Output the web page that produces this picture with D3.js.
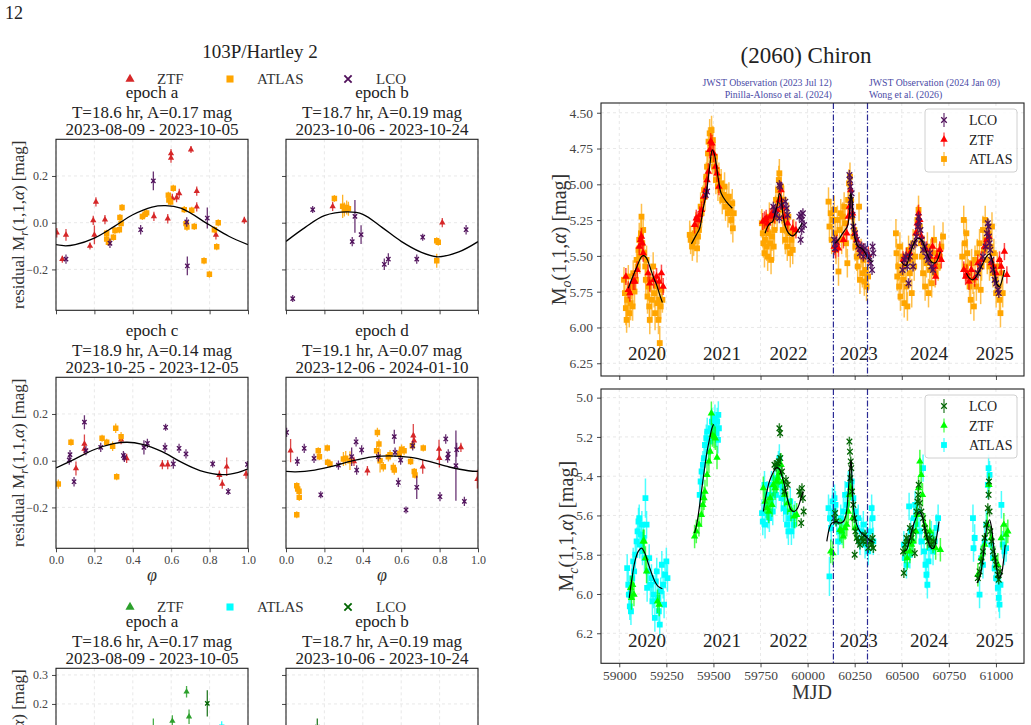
<!DOCTYPE html>
<html>
<head>
<meta charset="utf-8">
<script src="https://cdn.jsdelivr.net/npm/d3@7"></script>
<style>
  body { margin: 0; background: #fff; }
  svg { display: block; font-family: "Liberation Serif", "DejaVu Serif", serif; }
</style>
</head>
<body>
<svg id="fig" width="1031" height="725"></svg>
<script>
// ---------------- Left: residual phase curves (103P/Hartley 2) ----------------
const epochNames = ["epoch a", "epoch b", "epoch c", "epoch d"];
const epochFits = ["T=18.6 hr, A=0.17 mag", "T=18.7 hr, A=0.19 mag", "T=18.9 hr, A=0.14 mag", "T=19.1 hr, A=0.07 mag"];
const epochDates = ["2023-08-09 - 2023-10-05", "2023-10-06 - 2023-10-24", "2023-10-25 - 2023-12-05", "2023-12-06 - 2024-01-10"];
const phaseTicks = [0, 0.2, 0.4, 0.6, 0.8, 1.0];
const residTicks = [-0.2, 0.0, 0.2];
const residTicksLow = [0.1, 0.2, 0.3];

// [phase, residual, error]
const resZtf = [
  [[0.004,-0.043,.02],[0.033,-0.156,.015],[0.052,-0.052,.025],[0.177,-0.10,.015],[0.194,0.01,.02],[0.20,-0.052,.04],[0.208,0.089,.02],[0.255,0.013,.02],[0.51,0.027,.02],[0.582,0.017,.02],[0.599,0.296,.02],[0.599,0.277,.02],[0.606,0.104,.02],[0.628,0.107,.02],[0.642,0.125,.02],[0.703,0.313,.015],[0.733,0.135,.02],[0.733,0.068,.02],[0.833,-0.052,.02],[0.981,0.01,.015]],
  [[0.243,0.07,.02],[0.814,0.0,.02]],
  [[0.148,0.072,.04],[0.148,0.05,.02],[0.104,-0.033,.03],[0.368,0.01,.02],[0.339,0.09,.02],[0.554,-0.017,.02],[0.582,-0.017,.02],[0.851,-0.062,.02],[0.866,-0.1,.02],[0.889,-0.026,.04],[0.99,-0.057,.02]],
  [[0.024,0.043,.05],[0.354,-0.003,.02],[0.424,-0.043,.02],[0.663,0.107,.05],[0.667,0.086,.03],[0.712,-0.026,.03],[0.797,0.05,.04],[0.799,0.011,.04],[0.911,0.057,.02],[0.997,-0.079,.04]]
];
const resAtlas = [
  [[0.264,-0.045,.015],[0.264,-0.07,.015],[0.273,-0.084,.015],[0.299,-0.062,.015],[0.307,-0.033,.015],[0.33,-0.03,.015],[0.333,0.022,.015],[0.339,-0.004,.015],[0.344,0.065,.015],[0.45,0.027,.015],[0.464,0.036,.015],[0.472,0.042,.015],[0.585,0.118,.015],[0.588,0.097,.015],[0.597,0.089,.015],[0.611,0.147,.015],[0.668,0.056,.015],[0.677,-0.004,.015],[0.682,-0.019,.015],[0.707,0.053,.015],[0.72,-0.016,.015],[0.771,-0.163,.015],[0.799,-0.221,.015],[0.825,-0.03,.015],[0.837,-0.103,.015],[0.845,0.0,.015]],
  [[0.252,0.104,.015],[0.295,0.07,.05],[0.304,0.056,.03],[0.316,0.065,.03],[0.325,0.06,.03],[0.785,-0.077,.015],[0.793,-0.084,.015],[0.785,-0.163,.03]],
  [[0.012,-0.1,.02],[0.078,0.079,.015],[0.24,0.096,.015],[0.264,0.079,.015],[0.295,0.062,.02],[0.311,0.139,.02],[0.316,-0.069,.015],[0.339,0.103,.02]],
  [[0.056,-0.107,.015],[0.061,-0.121,.015],[0.068,-0.131,.015],[0.069,-0.157,.015],[0.056,-0.231,.015],[0.168,0.043,.015],[0.174,0.017,.015],[0.215,0.054,.015],[0.217,-0.007,.015],[0.229,-0.014,.015],[0.299,0.007,.03],[0.311,0.011,.03],[0.333,0.0,.04],[0.472,0.043,.02],[0.476,0.121,.02],[0.484,0.071,.02],[0.49,0.0,.05],[0.507,-0.026,.02],[0.533,0.017,.02],[0.542,0.026,.02],[0.559,-0.029,.02],[0.564,-0.04,.02],[0.59,0.031,.02],[0.602,0.049,.02],[0.615,0.043,.02],[0.649,-0.003,.015],[0.658,0.064,.015],[0.668,-0.046,.015],[0.672,-0.061,.015],[0.715,0.054,.015]]
];
const resLco = [
  [[0.052,-0.156,.02],[0.281,-0.088,.02],[0.441,-0.03,.02],[0.507,0.179,.04],[0.681,0.003,.02],[0.684,-0.185,.04],[0.788,0.02,.045]],
  [[0.035,-0.325,.015],[0.139,0.056,.015],[0.345,-0.081,.02],[0.359,0.027,.07],[0.391,-0.051,.04],[0.512,-0.178,.025],[0.533,-0.156,.025],[0.681,-0.156,.02],[0.712,-0.062,.015],[0.938,-0.03,.02]],
  [[0.069,0.003,.02],[0.073,0.026,.02],[0.094,-0.09,.02],[0.148,0.165,.03],[0.156,0.043,.02],[0.233,0.057,.02],[0.351,0.022,.02],[0.356,0.014,.02],[0.458,0.057,.03],[0.476,0.074,.02],[0.568,0.057,.02],[0.571,0.143,.015],[0.611,-0.014,.02],[0.641,0.053,.02],[0.677,0.029,.02],[0.816,-0.014,.015],[0.897,-0.132,.015],[0.997,-0.016,.015]],
  [[0.003,0.121,.02],[0.059,-0.003,.02],[0.095,0.053,.02],[0.146,0.01,.02],[0.181,-0.146,.015],[0.273,-0.019,.02],[0.342,0.017,.04],[0.365,0.081,.02],[0.368,-0.04,.02],[0.394,0.046,.02],[0.481,0.017,.02],[0.564,0.103,.03],[0.568,0.036,.02],[0.585,-0.093,.02],[0.597,0.003,.02],[0.625,-0.211,.015],[0.66,0.064,.02],[0.681,-0.114,.05],[0.802,-0.154,.02],[0.832,0.093,.02],[0.845,0.029,.02],[0.842,0.011,.02],[0.885,-0.021,.15],[0.889,0.047,.03],[0.929,-0.174,.02]]
];
const resFit = [
  [[0,-0.094],[0.05,-0.099],[0.1,-0.094],[0.2,-0.066],[0.3,-0.018],[0.4,0.034],[0.5,0.067],[0.57,0.073],[0.65,0.062],[0.8,-0.01],[0.9,-0.058],[1.0,-0.094]],
  [[0,-0.08],[0.1,-0.02],[0.2,0.03],[0.32,0.046],[0.4,0.036],[0.5,-0.02],[0.6,-0.08],[0.7,-0.125],[0.79,-0.146],[0.9,-0.125],[1,-0.081]],
  [[0,-0.031],[0.1,0.008],[0.2,0.048],[0.3,0.073],[0.37,0.079],[0.45,0.07],[0.55,0.04],[0.65,-0.005],[0.75,-0.042],[0.87,-0.06],[0.95,-0.05],[1,-0.035]],
  [[0,-0.046],[0.05,-0.048],[0.15,-0.04],[0.25,-0.022],[0.35,0.0],[0.45,0.016],[0.54,0.021],[0.65,0.014],[0.75,-0.004],[0.85,-0.027],[0.95,-0.043],[1,-0.046]]
];
// second (colour-band) group, only its top edge is visible
const resZtfLow = [[[0.68,0.242,.02],[0.693,0.156,.025],[0.606,0.141,.02],[0.507,0.11,.04]], []];
const resAtlasLow = [[[0.863,0.12,.02]], []];
const resLcoLow = [[[0.788,0.202,.045]], [[0.163,0.12,.03]]];

// ---------------- Right: (2060) Chiron light curves ----------------
const mjdTicks = d3.range(59000, 61001, 250);
const magTicksO = [4.50, 4.75, 5.00, 5.25, 5.50, 5.75, 6.00, 6.25];
const magTicksC = [5.0, 5.2, 5.4, 5.6, 5.8, 6.0, 6.2];
const years = ["2020", "2021", "2022", "2023", "2024", "2025"];
const yearMjd = [59147, 59545, 59899, 60272, 60644, 60994];
const jwstMjd = [60137, 60318];
const jwstText = [["JWST Observation (2023 Jul 12)", "Pinilla-Alonso et al. (2024)"], ["JWST Observation (2024 Jan 09)", "Wong et al. (2026)"]];

// [MJD, mag, err]  (err omitted -> typical error of the series)
const atlasO = [
  [59025,5.667,.09],[59030,5.760,.10],[59035,5.865,.12],[59039,5.947,.09],[59042,5.807,.12],[59048,5.644,.08],[59053,5.900,.10],[59060,5.830,.12],[59065,5.714,.09],[59071,5.853,.10],[59074,5.621,.09],[59081,5.749,.10],[59088,5.667,.09],[59092,5.528,.10],[59097,5.574,.12],[59102,5.458,.10],[59106,5.388,.12],[59109,5.505,.12],[59115,5.342,.10],[59118,5.226,.09],[59122,5.412,.10],[59127,5.319,.10],[59132,5.481,.09],[59138,5.574,.12],[59141,5.667,.10],[59145,5.528,.10],[59150,5.784,.12],[59155,5.714,.10],[59159,5.853,.12],[59162,5.947,.10],[59168,5.667,.09],[59173,5.807,.12],[59180,5.574,.10],[59185,5.760,.10],[59190,5.900,.12],[59198,5.714,.10],[59203,5.830,.12],[59208,5.947,.10],[59212,5.807,.12],[59215,6.109,.12],[59220,5.853,.09],[59224,5.737,.10],[59229,5.807,.09],
  [59374,5.353],[59379,5.388],[59388,5.435],[59395,5.400],[59400,5.342],[59406,5.295],[59413,5.447],[59418,5.365],[59423,5.319],[59427,5.249],[59432,5.156],[59437,5.202],[59444,5.109],[59450,5.040],[59455,5.086],[59462,4.947],[59466,4.877],[59471,4.784],[59474,4.702],[59480,4.644],[59485,4.714],[59490,4.621],[59494,4.830],[59497,4.691],[59503,4.877],[59508,4.807],[59513,4.970],[59519,4.900],[59524,5.016],[59529,4.947],[59536,5.040],[59541,4.993],[59547,5.109],[59554,5.074],[59559,5.016],[59564,5.156],[59571,5.109],[59577,5.202],[59582,5.086],[59589,5.179],[59594,5.249],[59600,5.133],[59603,5.307],[59608,5.202],
  [59757,5.272],[59762,5.342],[59765,5.412],[59771,5.481],[59774,5.388],[59780,5.295],[59783,5.435],[59788,5.505],[59794,5.342],[59797,5.226],[59801,5.412],[59806,5.528],[59811,5.365],[59815,5.249],[59820,5.435],[59824,5.319],[59829,5.179],[59832,5.109],[59838,5.226],[59843,5.040],[59847,4.970],[59850,4.923],[59855,5.133],[59859,5.016],[59864,5.179],[59868,5.319],[59873,5.109],[59878,5.249],[59882,5.388],[59887,5.295],[59892,5.435],[59898,5.226],[59903,5.342],[59908,5.481],[59914,5.388],[59921,5.458],[59926,5.342],
  [60111,5.121],[60116,5.295],[60123,5.202],[60128,5.388],[60134,5.249],[60141,5.179],[60146,5.342],[60151,5.458],[60158,5.249],[60164,5.609],[60169,5.319],[60176,5.202],[60181,5.388],[60187,5.226],[60194,5.156],[60199,5.272],[60204,5.412],[60211,5.551],[60215,5.109],[60220,4.993],[60225,4.947],[60231,5.109],[60236,5.226],[60243,5.365],[60248,5.319],[60254,5.435],[60261,5.505],[60266,5.574],[60273,5.156],[60278,5.667],[60284,5.481],[60291,5.621],[60296,5.528],[60301,5.679],[60308,5.598],[60313,5.714],[60321,5.644],
  [60469,5.342],[60472,5.481],[60476,5.644],[60481,5.574],[60486,5.714],[60490,5.435],[60493,5.784],[60499,5.621],[60504,5.505],[60507,5.667],[60513,5.830],[60518,5.574],[60525,5.714],[60530,5.853],[60536,5.458],[60543,5.621],[60548,5.528],[60553,5.760],[60560,5.412],[60566,5.574],[60571,5.505],[60578,5.342],[60583,5.249],[60589,5.179],[60596,5.295],[60601,5.412],[60606,5.505],[60613,5.621],[60619,5.458],[60624,5.714],[60631,5.551],[60636,5.435],[60642,5.760],[60649,5.598],[60654,5.481],[60659,5.691],[60666,5.528],[60671,5.388],[60677,5.621],[60684,5.481],[60693,5.574],[60702,5.505],[60710,5.435],[60719,5.365],
  [60821,5.505],[60829,5.249],[60834,5.412],[60839,5.574],[60843,5.342],[60848,5.481],[60853,5.621],[60860,5.714],[60866,5.807],[60871,5.551],[60878,5.667],[60883,5.853],[60889,5.528],[60896,5.714],[60901,5.481],[60906,5.621],[60913,5.412],[60919,5.737],[60924,5.574],[60931,5.319],[60936,5.458],[60943,5.249],[60949,5.388],[60954,5.528],[60961,5.342],[60966,5.574],[60972,5.435],[60979,5.295],[60984,5.621],[60989,5.481],[60996,5.667],[61001,5.760],[61007,5.574],[61014,5.714],[61019,5.807],[61024,5.900],[61029,5.621],[61036,5.760]
];
const ztfO = [
  [59035,5.644],[59048,5.737],[59056,5.760],[59074,5.679],[59083,5.679],[59095,5.598],[59106,5.435],[59113,5.388],[59118,5.365],[59123,5.412],[59127,5.481],[59153,5.621],[59162,5.691],[59183,5.667],[59198,5.644],[59212,5.679],[59224,5.621],[59233,5.714],
  [59400,5.284],[59409,5.237],[59418,5.249],[59427,5.214],[59437,5.179],[59448,5.086],[59459,5.040],[59466,4.970],[59473,4.912],[59480,4.760],[59485,4.702],[59492,4.714],[59501,4.784],[59511,4.877],[59519,4.923],[59529,5.016],
  [59762,5.260],[59771,5.249],[59780,5.237],[59788,5.272],[59801,5.226],[59811,5.202],[59824,5.214],[59838,5.179],[59850,5.109],[59859,5.040],[59868,5.156],[59877,5.226],[59894,5.272],[59921,5.307],[59938,5.319],
  [60141,5.435],[60148,5.458],[60155,5.412],[60164,5.447],[60190,5.388],[60208,5.342],[60216,5.226],[60222,5.156],[60229,5.040],[60239,5.202],[60250,5.342],[60261,5.388],[60278,5.458],[60296,5.470],[60322,5.493],
  [60507,5.528],[60525,5.505],[60543,5.481],[60575,5.342],[60582,5.272],[60589,5.202],[60596,5.249],[60604,5.365],[60631,5.458],[60649,5.505],[60663,5.435],[60675,5.574],[60680,5.644],[60687,5.505],[60702,5.458],[60710,5.528],
  [60829,5.598],[60839,5.644],[60846,5.621],[60857,5.679],[60869,5.598],[60887,5.656],[60904,5.551],[60922,5.528],[60940,5.435],[60952,5.388],[60963,5.365],[60975,5.551],[60987,5.574],[61001,5.621],[61019,5.528],[61028,5.574],[61045,5.470],[61058,5.633]
];
const lcoO = [
  [59459,5.074],[59466,5.051],
  [59818,5.156],[59827,5.179],[59832,5.214],[59850,5.005],[59854,5.016],[59850,5.237],[59859,5.144],[59882,5.121],[59889,5.167],[59894,5.214],[59956,5.226],[59965,5.214],[59970,5.249],[59975,5.202],[59963,5.388],[59981,5.284],[59968,5.319],
  [60141,5.388],[60146,5.447],[60151,5.400],[60222,4.935],[60225,4.970],[60227,5.016],[60229,5.109],[60231,5.156],[60234,5.063],[60238,5.214],[60243,5.295],[60252,5.342],[60261,5.388],[60269,5.435],[60278,5.481],[60287,5.435],[60296,5.505],[60305,5.447],[60313,5.481],[60328,5.505],[60335,5.551],[60342,5.598],[60349,5.481],[60345,5.435],
  [60504,5.598],[60513,5.528],[60522,5.505],[60529,5.574],[60536,5.691],[60543,5.505],[60552,5.435],[60560,5.574],[60569,5.412],[60578,5.365],[60585,5.295],[60589,5.226],[60592,5.260],[60599,5.319],[60606,5.388],[60613,5.458],[60622,5.435],[60631,5.505],[60640,5.528],[60649,5.481],[60657,5.574],[60666,5.598],
  [60904,5.621],[60917,5.574],[60931,5.505],[60945,5.435],[60952,5.342],[60957,5.272],[60961,5.295],[60963,5.365],[60966,5.412],[60970,5.458],[60975,5.528],[60984,5.598],[60993,5.667],[61001,5.691],[61010,5.737],[61015,5.760]
];
const fitO = [
  [[59048,5.726],[59065,5.667],[59083,5.609],[59101,5.551],[59118,5.505],[59131,5.498],[59145,5.516],[59162,5.574],[59180,5.644],[59198,5.702],[59215,5.772],[59229,5.826]],
  [[59383,5.416],[59409,5.353],[59427,5.307],[59444,5.179],[59462,5.063],[59480,4.877],[59494,4.760],[59506,4.795],[59524,4.947],[59541,5.063],[59568,5.121],[59600,5.167]],
  [[59774,5.342],[59788,5.295],[59801,5.272],[59815,5.260],[59827,5.202],[59841,5.133],[59850,5.063],[59859,5.086],[59868,5.202],[59882,5.295],[59899,5.342],[59921,5.360],[59938,5.342],[59956,5.307],[59970,5.272]],
  [[60146,5.412],[60164,5.388],[60181,5.353],[60199,5.319],[60211,5.295],[60222,5.202],[60229,5.063],[60236,5.109],[60243,5.295],[60254,5.388],[60269,5.435],[60287,5.447],[60301,5.470],[60317,5.505],[60331,5.528],[60345,5.540]],
  [[60499,5.540],[60511,5.563],[60525,5.563],[60539,5.505],[60557,5.435],[60575,5.388],[60592,5.377],[60610,5.400],[60627,5.458],[60645,5.516],[60663,5.547],[60680,5.547],[60693,5.516],[60705,5.470]],
  [[60843,5.621],[60860,5.656],[60878,5.667],[60896,5.644],[60913,5.598],[60931,5.551],[60949,5.505],[60966,5.486],[60980,5.528],[60993,5.621],[61007,5.702],[61019,5.714],[61033,5.667],[61045,5.598]]
];

const atlasC = [
  [59042,5.868],[59048,5.953],[59051,6.003],[59056,6.063],[59062,6.088],[59069,5.919],[59074,5.834],[59079,5.885],[59085,5.800],[59092,5.732],[59097,5.681],[59102,5.631],[59106,5.614],[59109,5.749],[59115,5.698],[59120,5.647],[59123,5.783],[59129,5.715],[59134,5.817],[59139,5.512,.1],[59145,5.647],[59148,5.969],[59153,5.885],[59159,5.817],[59166,5.953],[59171,5.919],[59176,6.037],[59183,6.003],[59189,6.122],[59194,5.936],[59199,5.885],[59205,6.020],[59210,6.088],[59215,6.156],[59220,5.986],[59226,5.851],[59233,5.953],[59238,6.054],[59243,5.902],[59250,5.834],[59256,5.919],
  [59427,5.495],[59432,5.427],[59437,5.376],[59444,5.342],[59450,5.308],[59455,5.241],[59462,5.207],[59467,5.173],[59473,5.275],[59480,5.224],[59485,5.156],[59492,5.122],[59497,5.164],[59503,5.139],[59508,5.105],[59515,5.181],[59520,5.122],[59526,5.088],[59529,5.156],[59524,5.215],
  [59758,5.588],[59762,5.631],[59771,5.444],[59774,5.647],[59780,5.546],[59785,5.495],[59790,5.597],[59797,5.614],[59802,5.529],[59808,5.444],[59815,5.580],[59820,5.495],[59825,5.410],[59832,5.495],[59838,5.427],[59845,5.342],[59850,5.308],[59855,5.444],[59861,5.512],[59868,5.461],[59873,5.563],[59878,5.495],[59885,5.580],[59891,5.647],[59898,5.681],[59903,5.614],[59908,5.529],[59914,5.681],[59921,5.614],[59926,5.647],[59933,5.597],
  [60111,5.563],[60116,5.910,.1],[60119,5.614],[60125,5.664],[60132,5.529],[60137,5.580],[60143,5.512],[60148,5.546],[60155,5.631],[60162,5.732],[60169,5.681],[60176,5.614],[60183,5.681],[60190,5.580],[60199,5.495],[60208,5.546],[60216,5.444],[60234,5.427],[60243,5.512],[60252,5.580],[60261,5.664],[60269,5.614],[60278,5.732],[60287,5.681],[60296,5.647],[60305,5.749],[60313,5.698],[60322,5.783],[60331,5.681],[60340,5.563],[60345,5.614],[60349,5.732],
  [60511,5.749],[60516,5.817],[60525,5.851],[60534,5.732],[60539,5.554],[60543,5.800],[60548,5.681],[60557,5.732],[60564,5.614],[60571,5.546],[60578,5.647],[60587,5.580],[60596,5.681],[60604,5.732],[60613,5.359],[60619,5.783],[60626,5.851],[60631,5.902],[60636,5.953],[60642,5.834],[60649,5.766],[60657,5.698],[60666,5.783],[60675,5.732],[60684,5.664],[60693,5.614],
  [60878,5.614],[60881,5.766],[60887,5.715],[60913,6.003],[60922,5.817],[60931,5.851],[60940,5.732],[60949,5.647],[60957,5.444],[60961,5.359],[60966,5.393],[60975,5.749],[60984,5.817],[60993,5.868],[61001,5.919],[61010,5.969],[61015,6.020],[61019,6.054],[61024,5.953],[61029,5.546],[61036,5.749],[61045,5.783],[61054,5.766]
];
const ztfC = [
  [59060,5.969],[59065,6.020],[59071,5.953],[59078,6.003],[59127,5.732],[59132,5.732],[59139,5.817],[59145,5.885],[59203,6.037],[59212,6.054],
  [59400,5.707],[59409,5.681],[59423,5.647],[59436,5.597],[59444,5.546],[59450,5.512],[59455,5.478],[59466,5.393],[59476,5.325],[59483,5.275],[59489,5.080],[59494,5.190],[59503,5.198],[59510,5.207],[59519,5.305],
  [59765,5.461],[59774,5.529],[59785,5.563],[59794,5.580],[59801,5.512],[59811,5.546],[59818,5.444],[59827,5.461],[59836,5.427],[59843,5.410],[59850,5.385],[59859,5.342],[59868,5.427],[59878,5.495],[59894,5.537],[59912,5.571],[59929,5.605],[59942,5.597],
  [60123,5.783],[60134,5.792],[60172,5.673],[60181,5.681],[60190,5.707],[60199,5.664],[60208,5.647],[60216,5.580],[60222,5.495],[60229,5.461],[60239,5.614],[60252,5.664],
  [60516,5.783],[60529,5.817],[60543,5.783],[60552,5.749],[60560,5.732],[60575,5.681],[60582,5.597],[60589,5.461],[60596,5.325],[60603,5.393],[60610,5.495],[60622,5.647],[60635,5.715],[60649,5.681],[60666,5.732],[60680,5.766],[60705,5.775],
  [60904,5.902],[60922,5.817],[60940,5.749],[60954,5.647],[60963,5.444],[60975,5.715],[60993,5.817],[61010,5.851],[61028,5.715],[61042,5.647],[61054,5.698],[61063,5.681]
];
const lcoC = [
  [59824,5.342],[59832,5.351],[59841,5.334],[59850,5.156],[59854,5.181],[59847,5.325],[59855,5.308],[59864,5.376],[59877,5.478],[59885,5.419],[59894,5.444],[59956,5.478],[59963,5.495],[59970,5.461],[59975,5.512],[59966,5.639],[59979,5.580],
  [60141,5.614],[60146,5.588],[60151,5.631],[60222,5.224],[60225,5.275],[60229,5.325],[60232,5.359],[60227,5.410],[60236,5.478],[60243,5.546],[60248,5.614],[60254,5.681],[60250,5.800],[60261,5.715],[60269,5.732],[60278,5.749],[60287,5.715],[60296,5.732],[60305,5.698],[60313,5.732],[60322,5.766],[60331,5.732],[60340,5.749],[60349,5.766],[60345,5.715],
  [60507,5.783],[60511,5.893],[60518,5.749],[60525,5.715],[60534,5.732],[60543,5.664],[60552,5.715],[60560,5.681],[60569,5.792],[60578,5.580],[60583,5.529],[60587,5.495],[60590,5.444],[60596,5.537],[60604,5.580],[60613,5.614],[60622,5.664],[60631,5.698],[60640,5.732],[60649,5.715],[60657,5.749],[60670,5.732],
  [60904,5.919],[60913,5.885],[60922,5.834],[60931,5.783],[60940,5.715],[60949,5.647],[60957,5.563],[60961,5.495],[60963,5.427],[60966,5.580],[60970,5.681],[60977,5.732],[60984,5.783],[60993,5.817],[61001,5.851],[61010,5.902],[61015,5.927],[61022,5.885]
];
const fitC = [
  [[59053,6.020],[59065,5.936],[59083,5.834],[59101,5.783],[59118,5.766],[59136,5.792],[59153,5.842],[59171,5.893],[59189,5.936],[59206,5.961],[59229,5.973]],
  [[59400,5.690],[59414,5.631],[59427,5.546],[59441,5.444],[59453,5.359],[59466,5.275],[59480,5.207],[59492,5.156],[59501,5.136]],
  [[59765,5.580],[59780,5.495],[59797,5.427],[59815,5.385],[59832,5.359],[59847,5.359],[59859,5.385],[59877,5.444],[59894,5.520],[59912,5.571],[59929,5.580],[59947,5.563],[59965,5.512],[59977,5.478]],
  [[60102,5.732],[60116,5.664],[60128,5.639],[60141,5.634],[60155,5.631],[60172,5.639],[60190,5.631],[60204,5.597],[60216,5.478],[60225,5.359],[60231,5.317],[60236,5.427],[60246,5.580],[60261,5.647],[60278,5.681],[60296,5.698],[60317,5.715],[60335,5.729],[60349,5.736]],
  [[60511,5.783],[60525,5.775],[60539,5.732],[60557,5.664],[60575,5.614],[60592,5.580],[60606,5.597],[60622,5.664],[60640,5.732],[60657,5.766],[60670,5.766],[60684,5.715],[60698,5.631]],
  [[60899,5.944],[60913,5.919],[60927,5.851],[60941,5.732],[60955,5.647],[60966,5.622],[60977,5.664],[60987,5.749],[61001,5.851],[61015,5.919],[61028,5.902],[61040,5.834],[61049,5.749]]
];

// ---------------- drawing ----------------
const svg = d3.select("#fig");
const tickColor = "#444";
const gridColor = "#e2e2e2";
let clipId = 0;

function symbolFor(shape, size) {
  const type = shape === "tri" ? d3.symbolTriangle : shape === "sq" ? d3.symbolSquare : d3.symbolX;
  return d3.symbol(type, size)();
}

function drawSeries(g, x, y, data, opt) {
  const pts = g.append("g");
  pts.selectAll("line")
    .data(data)
    .join("line")
    .attr("x1", d => x(d[0])).attr("x2", d => x(d[0]))
    .attr("y1", d => y(d[1] - (d[2] ?? opt.err)))
    .attr("y2", d => y(d[1] + (d[2] ?? opt.err)))
    .attr("stroke", opt.color)
    .attr("stroke-width", opt.barWidth)
    .attr("stroke-opacity", opt.barOpacity);
  pts.selectAll("path")
    .data(data)
    .join("path")
    .attr("transform", d => `translate(${x(d[0])},${y(d[1])})`)
    .attr("d", symbolFor(opt.shape, opt.size))
    .attr("fill", opt.shape === "x" ? "none" : opt.color)
    .attr("stroke", opt.shape === "x" ? opt.color : "none")
    .attr("stroke-width", 1.3);
}

function axesFrame(g, w, h) {
  g.append("rect").attr("width", w).attr("height", h)
    .attr("fill", "none").attr("stroke", "#222").attr("stroke-width", 1.1);
}

function grid(g, x, y, xt, yt, w, h) {
  g.append("g").selectAll("line").data(xt).join("line")
    .attr("x1", d => x(d)).attr("x2", d => x(d)).attr("y1", 0).attr("y2", h)
    .attr("stroke", gridColor).attr("stroke-dasharray", "3,3").attr("stroke-width", 0.8);
  g.append("g").selectAll("line").data(yt).join("line")
    .attr("y1", d => y(d)).attr("y2", d => y(d)).attr("x1", 0).attr("x2", w)
    .attr("stroke", gridColor).attr("stroke-dasharray", "3,3").attr("stroke-width", 0.8);
}

function styleAxis(ax, fontSize) {
  ax.select(".domain").remove();
  ax.selectAll(".tick line").attr("stroke", "#333").attr("stroke-width", 0.9);
  ax.selectAll(".tick text").attr("fill", tickColor)
    .style("font-family", '"Liberation Serif", serif').style("font-size", fontSize + "px");
}

function clipFor(g, w, h) {
  const id = "clip" + (clipId++);
  g.append("clipPath").attr("id", id).append("rect").attr("width", w).attr("height", h);
  return `url(#${id})`;
}

function labelWithSub(sel, pre, sub, fs) {
  sel.append("tspan").text(pre + "M");
  sel.append("tspan").text(sub).attr("font-style", "italic")
    .attr("font-size", fs * 0.7).attr("dy", fs * 0.25);
  sel.append("tspan").text("(1,1,").attr("dy", -fs * 0.25);
  sel.append("tspan").text("α").attr("font-style", "italic");
  sel.append("tspan").text(") [mag]");
}

// ---- figure number ----
svg.append("text").attr("x", 5).attr("y", 19).attr("font-size", 18).attr("fill", "#222").text("12");

// ---- left block ----
const colX = [56, 286];
const panelW = 192;
const panelH = 171;

function residualGroup(top, yDomain, yTicks, rows, colors, sets, withTitle, xLabels) {
  if (withTitle) {
    svg.append("text").attr("x", 260).attr("y", top.title).attr("text-anchor", "middle")
      .attr("font-size", 19).attr("fill", "#222").text("103P/Hartley 2");
  }
  // legend row
  const leg = [["tri", colors.ztf, "ZTF", 130, 157], ["sq", colors.atlas, "ATLAS", 230, 257], ["x", colors.lco, "LCO", 348, 376]];
  leg.forEach(l => {
    svg.append("path").attr("transform", `translate(${l[3]},${top.legend})`)
      .attr("d", symbolFor(l[0], l[0] === "sq" ? 50 : 36))
      .attr("fill", l[0] === "x" ? "none" : l[1]).attr("stroke", l[0] === "x" ? l[1] : "none").attr("stroke-width", 1.8);
    svg.append("text").attr("x", l[4]).attr("y", top.legend + 4.5).attr("font-size", 15).attr("fill", "#333").text(l[2]);
  });

  rows.forEach((rowTop, ri) => {
    colX.forEach((cx, ci) => {
      const e = ri * 2 + ci;
      const g = svg.append("g").attr("transform", `translate(${cx},${rowTop})`);
      const x = d3.scaleLinear().domain([0, 1]).range([0, panelW]);
      const y = d3.scaleLinear().domain(yDomain).range([panelH, 0]);
      grid(g, x, y, phaseTicks, yTicks, panelW, panelH);

      const ax = g.append("g").attr("transform", `translate(0,${panelH})`)
        .call(d3.axisBottom(x).tickValues(phaseTicks).tickSize(4).tickPadding(3)
          .tickFormat(xLabels[ri] ? d3.format(".1f") : ""));
      styleAxis(ax, 12);
      const ay = g.append("g")
        .call(d3.axisLeft(y).tickValues(yTicks).tickSize(4).tickPadding(4)
          .tickFormat(ci === 0 ? (d => d3.format(".1f")(d).replace("-", "−")) : ""));
      styleAxis(ay, 12);

      const body = g.append("g").attr("clip-path", clipFor(g, panelW, panelH));
      const set = sets[e];
      if (set) {
        drawSeries(body, x, y, set.ztf, { color: colors.ztf, shape: "tri", size: 17, err: 0.02, barWidth: 1.3, barOpacity: 0.85 });
        drawSeries(body, x, y, set.atlas, { color: colors.atlas, shape: "sq", size: 30, err: 0.015, barWidth: 1.3, barOpacity: 0.85 });
        drawSeries(body, x, y, set.lco, { color: colors.lco, shape: "x", size: 14, err: 0.02, barWidth: 1.3, barOpacity: 0.85 });
        if (set.fit) {
          body.append("path").datum(set.fit)
            .attr("d", d3.line().x(d => x(d[0])).y(d => y(d[1])).curve(d3.curveCatmullRom))
            .attr("fill", "none").attr("stroke", "#000").attr("stroke-width", 1.3);
        }
      }
      axesFrame(g, panelW, panelH);

      // titles
      const tx = cx + panelW / 2;
      [[epochNames[e], 41], [epochFits[e], 21.5], [epochDates[e], 4]].forEach(t => {
        svg.append("text").attr("x", tx).attr("y", rowTop - t[1]).attr("text-anchor", "middle")
          .attr("font-size", 17).attr("fill", "#222").text(t[0]);
      });
      if (xLabels[ri]) {
        svg.append("text").attr("x", tx).attr("y", rowTop + panelH + 33).attr("text-anchor", "middle")
          .attr("font-size", 18).attr("font-style", "italic").attr("fill", "#333").text("φ");
      }
    });
    const yl = svg.append("text").attr("transform", `translate(24,${rowTop + panelH / 2}) rotate(-90)`)
      .attr("text-anchor", "middle").attr("font-size", 17).attr("fill", "#333");
    labelWithSub(yl, "residual ", colors.sub, 17);
  });
}

const setsR = [0, 1, 2, 3].map(i => ({ ztf: resZtf[i], atlas: resAtlas[i], lco: resLco[i], fit: resFit[i] }));
residualGroup({ title: 58, legend: 79 }, [-0.375, 0.357], residTicks, [139.3, 377.3],
  { ztf: "#d62728", atlas: "#ffa500", lco: "#4f0f5a", sub: "r" }, setsR, true, [false, true]);

const setsC = [0, 1].map(i => ({ ztf: resZtfLow[i], atlas: resAtlasLow[i], lco: resLcoLow[i] }));
residualGroup({ legend: 607 }, [-0.267, 0.323], residTicksLow, [668.3],
  { ztf: "#2ca02c", atlas: "#00ffff", lco: "#006400", sub: "c" }, setsC, false, [false]);

// ---- right block: Chiron ----
const rx0 = 601, rW = 423;
const xM = d3.scaleLinear().domain([58903, 61149]).range([0, rW]);

svg.append("text").attr("x", 806).attr("y", 63).attr("text-anchor", "middle")
  .attr("font-size", 23).attr("fill", "#222").text("(2060) Chiron");

jwstText.forEach((lines, i) => {
  const lx = rx0 + xM(jwstMjd[i]) + (i === 0 ? -1.5 : 1.5);
  lines.forEach((t, j) => {
    svg.append("text").attr("x", lx).attr("y", 86 + j * 11.5)
      .attr("text-anchor", i === 0 ? "end" : "start")
      .attr("font-size", 9.8).attr("fill", "#4a4aa6").text(t);
  });
});

function chironPanel(top, h, yDomain, yTicks, fmt, series, fit, legendItems, sub, labelX, showX) {
  const g = svg.append("g").attr("transform", `translate(${rx0},${top})`);
  const y = d3.scaleLinear().domain(yDomain).range([0, h]);
  grid(g, xM, y, mjdTicks, yTicks, rW, h);

  const ax = g.append("g").attr("transform", `translate(0,${h})`)
    .call(d3.axisBottom(xM).tickValues(mjdTicks).tickSize(4).tickPadding(3).tickFormat(showX ? d3.format("d") : ""));
  styleAxis(ax, 13.5);
  const ay = g.append("g").call(d3.axisLeft(y).tickValues(yTicks).tickSize(4).tickPadding(4).tickFormat(d3.format(fmt)));
  styleAxis(ay, 13.5);

  const body = g.append("g").attr("clip-path", clipFor(g, rW, h));
  series.forEach(s => drawSeries(body, xM, y, s.data, s));
  fit.forEach(seg => {
    body.append("path").datum(seg)
      .attr("d", d3.line().x(d => xM(d[0])).y(d => y(d[1])).curve(d3.curveCatmullRom))
      .attr("fill", "none").attr("stroke", "#000").attr("stroke-width", 1.2);
  });
  jwstMjd.forEach(m => {
    body.append("line").attr("x1", xM(m)).attr("x2", xM(m)).attr("y1", 0).attr("y2", h)
      .attr("stroke", "#2b2b95").attr("stroke-width", 1.2).attr("stroke-dasharray", "6,2,1.5,2");
  });
  // year labels
  g.append("g").selectAll("text").data(years).join("text")
    .attr("x", (d, i) => xM(yearMjd[i])).attr("y", h - 16.5).attr("text-anchor", "middle")
    .attr("font-size", 19).attr("fill", "#222").text(d => d);

  // legend
  const lg = g.append("g").attr("transform", `translate(${rW - 99},6)`);
  lg.append("rect").attr("width", 92).attr("height", 63).attr("rx", 3)
    .attr("fill", "#fff").attr("fill-opacity", 0.85).attr("stroke", "#d0d0d0");
  legendItems.forEach((s, i) => {
    const cy = 11 + i * 19.5;
    lg.append("line").attr("x1", 19).attr("x2", 19).attr("y1", cy - 7).attr("y2", cy + 7)
      .attr("stroke", s.color).attr("stroke-width", 1.3).attr("stroke-opacity", s.barOpacity);
    lg.append("path").attr("transform", `translate(19,${cy})`).attr("d", symbolFor(s.shape, s.size))
      .attr("fill", s.shape === "x" ? "none" : s.color).attr("stroke", s.shape === "x" ? s.color : "none").attr("stroke-width", 1.3);
    lg.append("text").attr("x", 44).attr("y", cy + 5).attr("font-size", 14).attr("fill", "#222").text(s.name);
  });
  axesFrame(g, rW, h);

  const yl = svg.append("text").attr("transform", `translate(${labelX},${top + h / 2}) rotate(-90)`)
    .attr("text-anchor", "middle").attr("font-size", 20).attr("fill", "#333");
  labelWithSub(yl, "", sub, 20);
}

const sAtlasO = { name: "ATLAS", data: atlasO, color: "#ffa500", shape: "sq", size: 34, err: 0.10, barWidth: 1.5, barOpacity: 0.7 };
const sZtfO = { name: "ZTF", data: ztfO, color: "#ff0000", shape: "tri", size: 24, err: 0.06, barWidth: 1.5, barOpacity: 0.7 };
const sLcoO = { name: "LCO", data: lcoO, color: "#4f0f5a", shape: "x", size: 22, err: 0.035, barWidth: 1.5, barOpacity: 0.8 };
chironPanel(103, 273, [4.432, 6.339], magTicksO, ".2f", [sAtlasO, sZtfO, sLcoO], fitO, [sLcoO, sZtfO, sAtlasO], "o", 566, false);

const sAtlasC = { name: "ATLAS", data: atlasC, color: "#00ffff", shape: "sq", size: 34, err: 0.07, barWidth: 1.5, barOpacity: 0.7 };
const sZtfC = { name: "ZTF", data: ztfC, color: "#00ff00", shape: "tri", size: 24, err: 0.06, barWidth: 1.5, barOpacity: 0.7 };
const sLcoC = { name: "LCO", data: lcoC, color: "#006400", shape: "x", size: 22, err: 0.025, barWidth: 1.5, barOpacity: 0.8 };
chironPanel(389, 274.3, [4.956, 6.353], magTicksC, ".1f", [sAtlasC, sZtfC, sLcoC], fitC, [sLcoC, sZtfC, sAtlasC], "c", 573, true);

svg.append("text").attr("x", 812).attr("y", 699).attr("text-anchor", "middle")
  .attr("font-size", 20).attr("fill", "#333").text("MJD");
</script>
</body>
</html>
